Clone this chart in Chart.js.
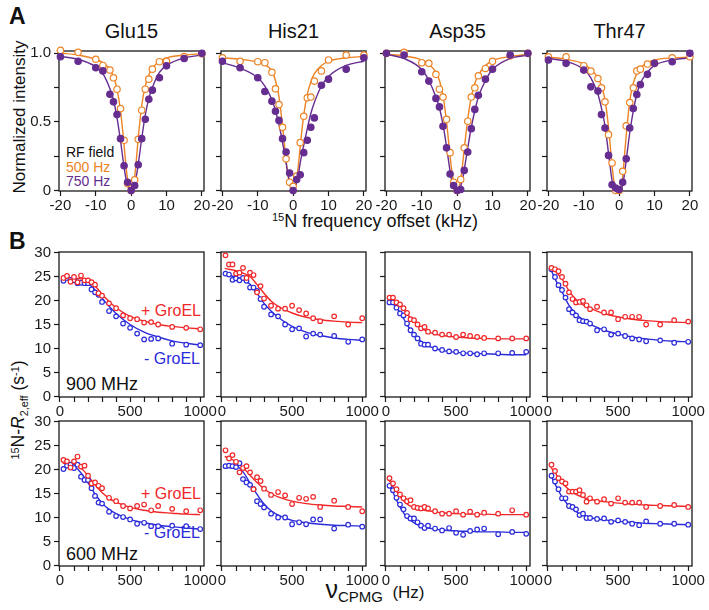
<!DOCTYPE html>
<html lang="en">
<head>
    <meta charset="UTF-8">
    <title>CEST and CPMG profiles</title>
    <script src="https://cdn.jsdelivr.net/npm/chart.js"></script>
    <style>
        body {
            margin: 0;
            background: #fff;
            font-family: "Liberation Sans", Arial, Helvetica, sans-serif;
        }
        #fig {
            position: relative;
            width: 709px;
            height: 610px;
            overflow: hidden;
            background: #fff;
        }
        .t {
            position: absolute;
            white-space: nowrap;
            line-height: 1;
            color: #111;
        }
        .c { transform: translate(-50%, -50%); }
        .r { transform: translate(-100%, -50%); }
        .l { transform: translate(0, -50%); }
        .rot { transform: translate(-50%, -50%) rotate(-90deg); }
        .b { font-weight: bold; }
        sup { font-size: 0.62em; vertical-align: 0.5em; line-height: 0; }
        sub { font-size: 0.62em; vertical-align: -0.3em; line-height: 0; }
    </style>
</head>
<body>
<div id="fig">
    <div class="t b" style="left:9px;top:5px;font-size:23px">A</div>
    <div class="t b" style="left:9px;top:230px;font-size:23px">B</div>

    <div class="t c" style="left:131.5px;top:30.5px;font-size:20px">Glu15</div>
    <div class="t c" style="left:293.5px;top:30.5px;font-size:20px">His21</div>
    <div class="t c" style="left:457.5px;top:30.5px;font-size:20px">Asp35</div>
    <div class="t c" style="left:619.5px;top:30.5px;font-size:20px">Thr47</div>

    <div class="t rot" style="left:19px;top:117px;font-size:17px">Normalized intensity</div>
    <div class="t c" style="left:375px;top:221px;font-size:18px"><sup>15</sup>N frequency offset (kHz)</div>

    <div class="t l" style="left:66px;top:152px;font-size:14px">RF field</div>
    <div class="t l" style="left:66px;top:167px;font-size:14px;color:#EC8325">500 Hz</div>
    <div class="t l" style="left:66px;top:181px;font-size:14px;color:#662D91">750 Hz</div>

    <div class="t r" style="left:201px;top:311px;font-size:16px;color:#F0282A">+ GroEL</div>
    <div class="t r" style="left:200px;top:358.5px;font-size:16px;color:#2B2BDA">- GroEL</div>
    <div class="t l" style="left:66px;top:384px;font-size:18px">900 MHz</div>

    <div class="t r" style="left:201px;top:494px;font-size:16px;color:#F0282A">+ GroEL</div>
    <div class="t r" style="left:200px;top:533px;font-size:16px;color:#2B2BDA">- GroEL</div>
    <div class="t l" style="left:66px;top:553.5px;font-size:18px">600 MHz</div>

    <div class="t rot" style="left:19px;top:410px;font-size:17.5px"><sup>15</sup>N-<i>R</i><sub>2,eff</sub> (s<sup>-1</sup>)</div>
    <div class="t c" style="left:375px;top:589px;font-size:17px"><span style="font-size:25px">&nu;</span><sub style="font-size:15px">CPMG</sub>&nbsp; (Hz)</div>
</div>

<script>
// ---- A: CEST profiles (offset in kHz, normalized intensity) ----
const OFFSETS = [-20, -15, -10, -8, -6, -5, -4, -3, -2, -1, 0, 1, 2, 3, 4, 5, 6, 8, 10, 15, 20];
const FIT_OFFSETS = [-20, -15, -10, -8, -6, -5, -4, -3, -2, -1.5, -1, -0.5, 0, 0.5, 1, 1.5, 2, 3, 4, 5, 6, 8, 10, 15, 20];

const glu15_500 = [1.02, 1.005, 0.955, 0.91, 0.876, 0.82, 0.737, 0.596, 0.365, 0.05, 0.0, 0.078, 0.372, 0.584, 0.737, 0.81, 0.883, 0.937, 0.94, 0.975, 0.995];
const glu15_750 = [0.973, 0.94, 0.893, 0.87, 0.70, 0.645, 0.552, 0.377, 0.18, 0.06, 0.0, 0.036, 0.187, 0.377, 0.518, 0.664, 0.73, 0.82, 0.907, 0.96, 0.998];
const his21_500 = [0.965, 0.94, 0.937, 0.93, 0.86, 0.74, 0.625, 0.46, 0.23, 0.06, 0.03, 0.105, 0.348, 0.54, 0.674, 0.68, 0.796, 0.87, 0.95, 0.985, 0.985];
const his21_750 = [0.94, 0.893, 0.82, 0.72, 0.65, 0.577, 0.51, 0.377, 0.28, 0.127, 0.0, 0.08, 0.114, 0.275, 0.365, 0.46, 0.528, 0.766, 0.81, 0.883, 0.966];
const asp35_500 = [0.998, 1.005, 0.93, 0.925, 0.845, 0.737, 0.68, 0.518, 0.275, 0.06, 0.0, 0.08, 0.31, 0.504, 0.68, 0.747, 0.835, 0.888, 0.94, 0.98, 0.998];
const asp35_750 = [0.998, 0.985, 0.864, 0.796, 0.67, 0.608, 0.467, 0.31, 0.12, 0.036, 0.0, 0.007, 0.146, 0.28, 0.45, 0.59, 0.693, 0.81, 0.883, 0.985, 0.998];
const thr47_500 = [0.973, 0.973, 0.908, 0.869, 0.815, 0.747, 0.645, 0.406, 0.2, 0.0, 0.0, 0.139, 0.47, 0.64, 0.747, 0.87, 0.883, 0.92, 0.925, 0.966, 0.973];
const thr47_750 = [0.949, 0.925, 0.876, 0.754, 0.723, 0.552, 0.455, 0.255, 0.041, 0.017, 0.007, 0.06, 0.23, 0.455, 0.596, 0.698, 0.77, 0.845, 0.925, 0.937, 0.998];

const glu15_500_fit = [1.0, 0.985, 0.955, 0.93, 0.88, 0.83, 0.74, 0.58, 0.33, 0.19, 0.08, 0.015, 0.0, 0.02, 0.1, 0.23, 0.38, 0.62, 0.76, 0.84, 0.89, 0.94, 0.965, 0.985, 0.995];
const glu15_750_fit = [0.975, 0.955, 0.9, 0.85, 0.74, 0.66, 0.53, 0.36, 0.17, 0.09, 0.04, 0.008, 0.0, 0.01, 0.05, 0.11, 0.19, 0.38, 0.55, 0.67, 0.75, 0.86, 0.91, 0.965, 0.985];
const his21_500_fit = [0.965, 0.955, 0.935, 0.915, 0.87, 0.8, 0.68, 0.47, 0.22, 0.12, 0.05, 0.01, 0.0, 0.02, 0.08, 0.19, 0.32, 0.55, 0.7, 0.79, 0.85, 0.91, 0.94, 0.965, 0.975];
const his21_750_fit = [0.93, 0.89, 0.82, 0.76, 0.66, 0.58, 0.48, 0.35, 0.2, 0.12, 0.06, 0.015, 0.0, 0.015, 0.06, 0.12, 0.2, 0.33, 0.45, 0.56, 0.64, 0.76, 0.83, 0.91, 0.94];
const asp35_500_fit = [0.99, 0.98, 0.95, 0.92, 0.86, 0.8, 0.69, 0.5, 0.25, 0.14, 0.06, 0.01, 0.0, 0.02, 0.08, 0.18, 0.3, 0.52, 0.68, 0.78, 0.84, 0.91, 0.945, 0.975, 0.99];
const asp35_750_fit = [0.99, 0.96, 0.88, 0.8, 0.68, 0.6, 0.48, 0.32, 0.14, 0.07, 0.03, 0.005, 0.0, 0.005, 0.03, 0.08, 0.15, 0.31, 0.46, 0.58, 0.68, 0.8, 0.88, 0.96, 0.985];
const thr47_500_fit = [0.97, 0.955, 0.92, 0.88, 0.82, 0.76, 0.66, 0.46, 0.18, 0.07, 0.02, 0.003, 0.0, 0.03, 0.1, 0.25, 0.4, 0.65, 0.78, 0.85, 0.89, 0.93, 0.95, 0.965, 0.97];
const thr47_750_fit = [0.96, 0.94, 0.88, 0.82, 0.7, 0.6, 0.47, 0.27, 0.07, 0.02, 0.005, 0.0, 0.0, 0.01, 0.04, 0.12, 0.22, 0.42, 0.58, 0.7, 0.78, 0.86, 0.91, 0.95, 0.965];

// ---- B: CPMG relaxation dispersion (Hz, s^-1) ----
const CPMG = [25, 50, 75, 100, 125, 150, 175, 200, 225, 250, 275, 300, 350, 400, 450, 500, 550, 600, 650, 700, 800, 900, 1000];
const FIT_CPMG = [20, 50, 100, 150, 200, 250, 300, 350, 400, 500, 600, 700, 800, 900, 1000];

const glu15_900_plus = [24.7, 25.1, 23.9, 24.9, 23.8, 25.2, 24.2, 24.2, 23.8, 23.3, 21.5, 21.0, 19.4, 18.4, 16.9, 16.3, 16.1, 15.4, 15.5, 15.0, 14.5, 14.3, 14.0];
const glu15_900_minus = [24.1, 24.7, 24.3, 24.2, 23.6, 23.7, 23.6, 23.6, 22.3, 21.7, 21.2, 19.7, 17.8, 16.7, 15.2, 14.3, 13.1, 11.9, 12.0, 12.1, 11.0, 10.8, 10.7];
const his21_900_plus = [29.4, 27.5, 27.5, 25.6, 25.8, 26.8, 24.7, 25.8, 25.3, 21.7, 23.0, 20.4, 18.9, 18.3, 18.3, 18.9, 18.0, 17.3, 16.3, 15.7, 16.7, 15.0, 16.3];
const his21_900_minus = [25.6, 25.4, 24.3, 24.6, 24.2, 24.7, 24.1, 22.7, 22.7, 22.0, 20.3, 18.7, 17.1, 16.7, 15.0, 14.0, 14.2, 12.5, 13.1, 12.9, 12.6, 11.4, 11.9];
const asp35_900_plus = [20.6, 20.6, 19.6, 19.2, 18.4, 17.4, 16.1, 15.9, 15.0, 14.2, 14.5, 13.5, 13.3, 12.9, 12.9, 12.4, 12.9, 12.6, 12.4, 12.2, 12.1, 12.1, 12.1];
const asp35_900_minus = [19.6, 19.6, 18.5, 17.3, 16.9, 15.2, 13.8, 12.9, 12.1, 11.0, 10.8, 10.8, 10.0, 9.7, 9.4, 9.3, 9.0, 9.0, 8.8, 9.0, 9.0, 9.1, 9.3];
const thr47_900_plus = [26.8, 26.5, 26.1, 24.9, 23.5, 21.7, 20.3, 19.6, 19.7, 19.9, 19.0, 18.2, 18.7, 17.5, 17.5, 16.1, 16.6, 16.6, 16.6, 15.0, 15.0, 15.9, 15.6];
const thr47_900_minus = [26.5, 24.9, 23.2, 22.2, 20.6, 18.2, 17.5, 16.9, 15.9, 15.7, 15.6, 15.2, 13.8, 14.0, 12.9, 13.1, 12.6, 12.1, 11.9, 11.5, 11.7, 11.2, 11.4];

const glu15_600_plus = [22.0, 21.7, 20.4, 21.7, 22.7, 20.6, 20.8, 18.7, 17.1, 17.3, 16.6, 16.1, 14.1, 13.4, 12.4, 11.9, 12.4, 12.7, 11.5, 12.4, 11.8, 11.3, 11.5];
const glu15_600_minus = [20.1, 20.8, 21.0, 20.3, 21.0, 18.5, 17.8, 17.8, 16.1, 14.5, 13.1, 12.9, 11.2, 10.3, 10.1, 9.6, 8.7, 8.9, 8.2, 8.2, 8.3, 8.2, 7.6];
const his21_600_plus = [24.0, 22.3, 23.0, 21.6, 19.4, 20.3, 20.7, 19.4, 15.9, 18.4, 17.6, 16.0, 14.7, 15.3, 14.6, 12.8, 14.1, 13.9, 14.3, 12.2, 13.5, 12.2, 11.3];
const his21_600_minus = [20.7, 20.8, 20.7, 20.5, 21.3, 18.0, 17.3, 16.8, 15.9, 13.4, 12.8, 12.1, 10.8, 10.0, 10.0, 8.6, 9.0, 8.6, 9.6, 9.6, 7.7, 8.5, 8.1];
const asp35_600_plus = [18.2, 17.1, 15.9, 14.8, 14.0, 13.4, 13.6, 12.2, 12.0, 11.9, 12.2, 11.9, 11.3, 10.8, 10.8, 11.3, 10.6, 11.2, 10.6, 11.0, 10.8, 11.5, 10.6];
const asp35_600_minus = [16.6, 15.7, 14.1, 12.7, 11.7, 10.3, 9.8, 9.8, 9.0, 8.3, 7.8, 8.3, 7.7, 7.3, 7.8, 6.8, 6.4, 7.2, 7.5, 7.7, 6.5, 7.0, 6.6];
const thr47_600_plus = [21.0, 19.7, 18.2, 17.5, 17.1, 15.4, 15.4, 15.4, 15.7, 14.7, 13.3, 14.0, 13.3, 13.8, 12.9, 14.0, 13.1, 13.1, 13.1, 12.2, 12.4, 12.6, 12.2];
const thr47_600_minus = [18.7, 17.5, 15.9, 14.0, 14.0, 12.4, 12.2, 11.7, 10.5, 10.8, 9.9, 9.9, 9.7, 9.8, 9.1, 9.4, 9.1, 8.7, 8.4, 9.2, 8.7, 8.7, 8.5];

const glu15_900_plus_fit = [24.8, 24.8, 24.7, 24.5, 24.1, 23.0, 21.3, 19.8, 18.5, 16.7, 15.7, 15.0, 14.6, 14.3, 14.1];
const glu15_900_minus_fit = [24.5, 24.5, 24.4, 24.1, 23.5, 22.2, 20.5, 18.8, 17.3, 15.0, 13.4, 12.4, 11.6, 11.1, 10.7];
const his21_900_plus_fit = [26.7, 26.5, 26.2, 25.7, 25.0, 23.3, 21.5, 19.9, 18.8, 17.4, 16.5, 16.0, 15.7, 15.5, 15.4];
const his21_900_minus_fit = [25.3, 25.2, 24.9, 24.4, 23.4, 21.5, 19.4, 17.8, 16.5, 14.6, 13.4, 12.7, 12.2, 11.9, 11.7];
const asp35_900_plus_fit = [20.6, 20.3, 19.0, 17.2, 15.6, 14.3, 13.5, 13.0, 12.7, 12.4, 12.2, 12.1, 12.0, 12.0, 12.0];
const asp35_900_minus_fit = [19.8, 19.3, 17.5, 15.0, 12.9, 11.5, 10.6, 10.0, 9.6, 9.2, 9.0, 8.9, 8.8, 8.7, 8.7];
const thr47_900_plus_fit = [27.2, 26.2, 24.5, 22.0, 20.2, 19.1, 18.4, 17.8, 17.3, 16.6, 16.1, 15.8, 15.6, 15.5, 15.4];
const thr47_900_minus_fit = [26.5, 24.5, 21.8, 19.0, 17.2, 16.0, 15.1, 14.4, 13.8, 13.0, 12.4, 12.0, 11.7, 11.5, 11.4];

const glu15_600_plus_fit = [21.3, 21.2, 21.0, 20.3, 18.7, 16.8, 15.2, 14.0, 13.2, 12.1, 11.5, 11.1, 10.9, 10.7, 10.6];
const glu15_600_minus_fit = [20.5, 20.7, 20.6, 19.3, 17.2, 14.9, 13.0, 11.7, 10.8, 9.6, 8.9, 8.4, 8.1, 7.8, 7.6];
const his21_600_plus_fit = [22.7, 22.4, 21.6, 20.4, 18.8, 17.3, 16.0, 15.0, 14.3, 13.4, 12.9, 12.6, 12.4, 12.3, 12.2];
const his21_600_minus_fit = [21.0, 21.0, 20.8, 19.5, 17.2, 14.8, 12.8, 11.4, 10.5, 9.4, 8.9, 8.6, 8.4, 8.3, 8.2];
const asp35_600_plus_fit = [17.8, 16.5, 14.4, 12.8, 12.0, 11.6, 11.4, 11.2, 11.0, 10.8, 10.7, 10.7, 10.6, 10.6, 10.6];
const asp35_600_minus_fit = [16.8, 15.2, 12.2, 10.0, 8.9, 8.2, 7.8, 7.6, 7.4, 7.2, 7.1, 7.0, 7.0, 6.9, 6.9];
const thr47_600_plus_fit = [20.5, 19.3, 17.3, 15.8, 14.8, 14.2, 13.8, 13.5, 13.3, 13.0, 12.8, 12.6, 12.5, 12.4, 12.3];
const thr47_600_minus_fit = [18.8, 17.0, 14.3, 12.4, 11.2, 10.5, 10.0, 9.7, 9.5, 9.2, 9.0, 8.8, 8.7, 8.6, 8.5];

// ticks
const A_X_TICKS = [-20, -10, 0, 10, 20];
const A_X_LABELS = ['-20', '-10', '0', '10', '20'];
const A_Y_TICKS = [0, 0.25, 0.5, 0.75, 1];
const A_Y_LABELS = ['0', '', '0.5', '', '1.0'];
const B_X_TICKS = [0, 100, 200, 300, 400, 500, 600, 700, 800, 900, 1000];
const B_X_LABELS = ['0', '', '', '', '', '500', '', '', '', '', '1000'];
const B_Y_TICKS = [0, 5, 10, 15, 20, 25, 30];
const B_Y_LABELS = ['0', '5', '10', '15', '20', '25', '30'];

// ---- drawing ----
const FONT = '"Liberation Sans", Arial, Helvetica, sans-serif';
const ORANGE = '#EC8325', PURPLE = '#662D91', RED = '#F0282A', BLUE = '#2B2BDA', INK = '#1a1a1a';
const COL_X = [59, 221, 385, 547];
const BOX_W = 145;
// top pad must exceed half a tick label height, or Chart.js pushes the plot down
const PAD = {l: 46, r: 26, t: 12, b: 28};
const fig = document.getElementById('fig');

const pair = (xs, ys) => ys.map((y, i) => ({x: xs[i], y: y}));

const frame = {
    id: 'frame',
    beforeDatasetsDraw(chart) {
        const a = chart.chartArea, g = chart.ctx;
        g.save();
        g.strokeStyle = INK;
        g.lineWidth = 1.3;
        g.strokeRect(a.left, a.top, a.right - a.left, a.bottom - a.top);
        g.restore();
    }
};

function axis(min, max, ticks, labels, isX) {
    return {
        type: 'linear',
        min: min,
        max: max,
        afterBuildTicks: s => { s.ticks = ticks.map(v => ({value: v})); },
        afterFit: s => { if (isX) s.height = PAD.b; else s.width = PAD.l; },
        ticks: {
            autoSkip: false, maxRotation: 0, minRotation: 0,
            padding: isX ? 1 : 3,
            color: INK,
            font: {family: FONT, size: 15},
            callback: (v, i) => labels[i]
        },
        grid: {drawOnChartArea: false, drawTicks: true, tickLength: 5, tickWidth: 1.2, tickColor: INK},
        border: {display: false}
    };
}

function points(xs, ys, color, filled, r) {
    return {
        data: pair(xs, ys), showLine: false, clip: false,
        pointRadius: r, pointHoverRadius: r, pointBorderWidth: 1.2,
        pointBackgroundColor: filled ? color : '#fff', pointBorderColor: color
    };
}

function curve(xs, ys, color) {
    return {
        data: pair(xs, ys), showLine: true, clip: false, pointRadius: 0, fill: false,
        borderColor: color, borderWidth: 1.4, cubicInterpolationMode: 'monotone'
    };
}

function panel(left, top, h, xs, ys, datasets) {
    const w = BOX_W + PAD.l + PAD.r, ht = h + PAD.t + PAD.b;
    const c = document.createElement('canvas');
    c.width = w;
    c.height = ht;
    c.style.cssText = 'position:absolute;left:' + (left - PAD.l) + 'px;top:' + (top - PAD.t) + 'px;width:' + w + 'px;height:' + ht + 'px';
    fig.appendChild(c);
    new Chart(c, {
        type: 'scatter',
        data: {datasets: datasets},
        options: {
            responsive: false,
            animation: false,
            devicePixelRatio: 1,
            layout: {padding: {top: PAD.t, right: PAD.r, left: 0, bottom: 0}},
            plugins: {legend: {display: false}, tooltip: {enabled: false}},
            scales: {x: xs, y: ys}
        },
        plugins: [frame]
    });
}

const blank = n => new Array(n).fill('');

// row A
const cest = [
    [glu15_500, glu15_750, glu15_500_fit, glu15_750_fit],
    [his21_500, his21_750, his21_500_fit, his21_750_fit],
    [asp35_500, asp35_750, asp35_500_fit, asp35_750_fit],
    [thr47_500, thr47_750, thr47_500_fit, thr47_750_fit]
];
cest.forEach((s, i) => {
    panel(COL_X[i], 51, 140,
        axis(-20.4, 20.6, A_X_TICKS, A_X_LABELS, true),
        axis(-0.004, 1.015, A_Y_TICKS, i === 0 ? A_Y_LABELS : blank(5), false),
        [
            points(OFFSETS, s[1], PURPLE, true, 3.2),
            points(OFFSETS, s[0], ORANGE, false, 3.2),
            curve(FIT_OFFSETS, s[3], PURPLE),
            curve(FIT_OFFSETS, s[2], ORANGE)
        ]);
});

// rows B
const cpmg = [
    [252, [
        [glu15_900_plus, glu15_900_minus, glu15_900_plus_fit, glu15_900_minus_fit],
        [his21_900_plus, his21_900_minus, his21_900_plus_fit, his21_900_minus_fit],
        [asp35_900_plus, asp35_900_minus, asp35_900_plus_fit, asp35_900_minus_fit],
        [thr47_900_plus, thr47_900_minus, thr47_900_plus_fit, thr47_900_minus_fit]
    ]],
    [421, [
        [glu15_600_plus, glu15_600_minus, glu15_600_plus_fit, glu15_600_minus_fit],
        [his21_600_plus, his21_600_minus, his21_600_plus_fit, his21_600_minus_fit],
        [asp35_600_plus, asp35_600_minus, asp35_600_plus_fit, asp35_600_minus_fit],
        [thr47_600_plus, thr47_600_minus, thr47_600_plus_fit, thr47_600_minus_fit]
    ]]
];
cpmg.forEach(row => {
    row[1].forEach((s, i) => {
        panel(COL_X[i], row[0], 145,
            axis(-7, 1027, B_X_TICKS, B_X_LABELS, true),
            axis(-0.1, 30.1, B_Y_TICKS, i === 0 ? B_Y_LABELS : blank(7), false),
            [
                points(CPMG, s[0], RED, false, 2.3),
                points(CPMG, s[1], BLUE, false, 2.3),
                curve(FIT_CPMG, s[2], RED),
                curve(FIT_CPMG, s[3], BLUE)
            ]);
    });
});
</script>
</body>
</html>
